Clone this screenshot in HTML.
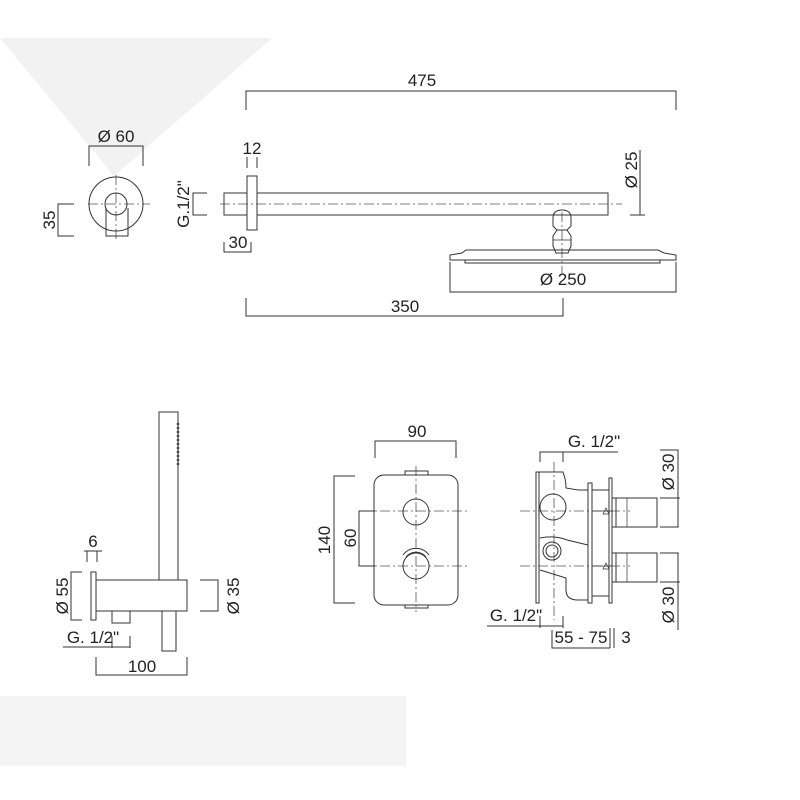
<!DOCTYPE html>
<html><head><meta charset="utf-8"><style>html,body{margin:0;padding:0;background:#fff}svg{display:block}</style></head>
<body>
<svg width="800" height="800" viewBox="0 0 800 800" xmlns="http://www.w3.org/2000/svg" font-family="Liberation Sans, sans-serif" font-size="17" fill="none" stroke="#333" stroke-width="1">
<rect x="0" y="0" width="800" height="800" fill="#fff" stroke="none"/>
<polygon points="0,38 272,38 114,176" fill="#f2f2f2" stroke="none"/>
<rect x="0" y="696" width="406" height="70" fill="#f4f4f4" stroke="none"/>

<g stroke-dasharray="10,3,2,3" stroke="#555" stroke-width="0.8">
<line x1="88" y1="204" x2="150" y2="204"/><line x1="116" y1="175" x2="116" y2="242"/>
<line x1="220" y1="204" x2="622" y2="204"/>
<line x1="562" y1="212" x2="562" y2="275"/>
<line x1="362" y1="511" x2="468" y2="511"/><line x1="362" y1="566" x2="468" y2="566"/>
<line x1="416" y1="466" x2="416" y2="612"/>
<line x1="520" y1="511" x2="630" y2="511"/><line x1="520" y1="566" x2="630" y2="566"/>
<line x1="554" y1="462" x2="554" y2="620"/>
</g>

<circle cx="116" cy="204" r="27"/><circle cx="116" cy="204" r="11"/>
<path d="M106,208 V236 H128 V208"/>
<path d="M89,166 V146 H143 V166"/>
<text x="116" y="142" fill="#222" stroke="none" text-anchor="middle">Ø 60</text>
<path d="M74,204 H58 V236 H74"/>
<text transform="translate(55,220) rotate(-90)" fill="#222" stroke="none" text-anchor="middle">35</text>

<rect x="247" y="176" width="10" height="54"/>
<rect x="224" y="193" width="23" height="22"/>
<rect x="257" y="193" width="351" height="22"/>
<path d="M207,193 H193 V215 H207"/>
<text transform="translate(189,204) rotate(-90)" fill="#222" stroke="none" text-anchor="middle">G.1/2"</text>
<path d="M247,168 V157 M257,168 V157"/>
<text x="252" y="154" fill="#222" stroke="none" text-anchor="middle">12</text>
<path d="M224,242 V252 H251 V242"/>
<text x="238" y="248" fill="#222" stroke="none" text-anchor="middle">30</text>
<path d="M246,110 V91 H676 V110"/>
<text x="422" y="86" fill="#222" stroke="none" text-anchor="middle">475</text>
<path d="M640,150 V215 M630,215 H645"/>
<text transform="translate(637,170) rotate(-90)" fill="#222" stroke="none" text-anchor="middle">Ø 25</text>
<path d="M553,226 V218 Q553,210 562,210 Q571,210 571,218 V226 L567,230 H557 Z"/>
<path d="M557,230 L553,236 V246 L556,253 H568 L571,246 V236 L567,230"/>
<path d="M553,240 H571" stroke-width="0.7"/>
<path d="M450,255 L462,253 L466,250 H658 L664,253 L676,255 V260 H450 Z"/>
<rect x="465" y="260" width="195" height="3"/>
<path d="M450,262 V292 H676 V262"/>
<text x="563" y="285" fill="#222" stroke="none" text-anchor="middle">Ø 250</text>
<path d="M246,298 V316 H563 V298"/>
<text x="405" y="312" fill="#222" stroke="none" text-anchor="middle">350</text>

<rect x="159" y="412" width="19" height="168"/>
<g fill="none" stroke="#444" stroke-width="0.7">
<circle cx="178" cy="424" r="1"/><circle cx="178" cy="428" r="1"/><circle cx="178" cy="432" r="1"/><circle cx="178" cy="436" r="1"/><circle cx="178" cy="440" r="1"/><circle cx="178" cy="444" r="1"/><circle cx="178" cy="448" r="1"/><circle cx="178" cy="452" r="1"/><circle cx="178" cy="456" r="1"/><circle cx="178" cy="460" r="1"/><circle cx="178" cy="464" r="1"/>
</g>
<rect x="91" y="572" width="5" height="48"/>
<rect x="96" y="580" width="91" height="31"/>
<rect x="162" y="611" width="14" height="40"/>
<rect x="112" y="611" width="18" height="12"/>
<path d="M84,551 H102 M87,551 V562 M97,551 V562"/>
<text x="93" y="547" fill="#222" stroke="none" text-anchor="middle">6</text>
<path d="M82,572 H71 V620 H82"/>
<text transform="translate(68,596) rotate(-90)" fill="#222" stroke="none" text-anchor="middle">Ø 55</text>
<path d="M200,580 H218 V611 H200"/>
<text transform="translate(239,596) rotate(-90)" fill="#222" stroke="none" text-anchor="middle">Ø 35</text>
<path d="M63,647 H130 M112,636 V648 M130,636 V648"/>
<text x="93" y="643" fill="#222" stroke="none" text-anchor="middle">G. 1/2"</text>
<path d="M96,657 V675 H187 V657"/>
<text x="142" y="672" fill="#222" stroke="none" text-anchor="middle">100</text>

<rect x="374" y="475" width="84" height="130" rx="10"/>
<rect x="405" y="471" width="23" height="4"/><rect x="405" y="605" width="23" height="3"/>
<circle cx="416" cy="512" r="13"/><circle cx="416" cy="566" r="13"/>
<path d="M403,555 A16,16 0 0 1 429,555"/><path d="M406,557 A13,13 0 0 1 426,557"/>
<path d="M375,458 V441 H456 V458"/>
<text x="417" y="437" fill="#222" stroke="none" text-anchor="middle">90</text>
<path d="M355,476 H334 V603 H355"/>
<text transform="translate(330,540) rotate(-90)" fill="#222" stroke="none" text-anchor="middle">140</text>
<path d="M375,511 H359 V566 H375"/>
<text transform="translate(356,538) rotate(-90)" fill="#222" stroke="none" text-anchor="middle">60</text>

<rect x="536" y="472" width="3" height="131"/>
<path d="M539,472 H563 Q566,480 566,488 L578,490 H588 M588,600 H578 Q566,600 566,590 V578 L540,570 M540,538 Q555,535 567,540 L588,545"/>
<circle cx="553" cy="507" r="13"/><circle cx="552" cy="551" r="9"/><circle cx="552" cy="551" r="6"/>
<rect x="588" y="483" width="4" height="120"/>
<rect x="609" y="478" width="3" height="125"/>
<path d="M592,490 H609 M592,596 H609"/>
<path d="M606,508 L603,514 H609 Z M606,563 L603,569 H609 Z" stroke-width="0.7"/>
<path d="M592,511 H612 M592,566 H612" stroke-width="0.7"/>
<rect x="612" y="498" width="4" height="29"/><rect x="616" y="498" width="41" height="29"/>
<rect x="612" y="553" width="4" height="29"/><rect x="616" y="553" width="41" height="29"/>
<path d="M627,498 V527 M627,553 V582" stroke-width="0.7"/>
<path d="M540,462 V452 H618 M563,452 V462"/>
<text x="594" y="447" fill="#222" stroke="none" text-anchor="middle">G. 1/2"</text>
<path d="M487,626 H563 M540,616 V628 M563,616 V628"/>
<text x="516" y="621" fill="#222" stroke="none" text-anchor="middle">G. 1/2"</text>
<path d="M660,450 H678 V527 H660 M660,498 H680"/>
<text transform="translate(674,472) rotate(-90)" fill="#222" stroke="none" text-anchor="middle">Ø 30</text>
<path d="M660,553 H678 V630 M660,582 H680"/>
<text transform="translate(674,605) rotate(-90)" fill="#222" stroke="none" text-anchor="middle">Ø 30</text>
<path d="M552,630 V648 H610 M610,628 V648 M614,628 V648"/>
<text x="581" y="643" fill="#222" stroke="none" text-anchor="middle">55 - 75</text>
<text x="626" y="643" fill="#222" stroke="none" text-anchor="middle">3</text>
</svg>
</body></html>
